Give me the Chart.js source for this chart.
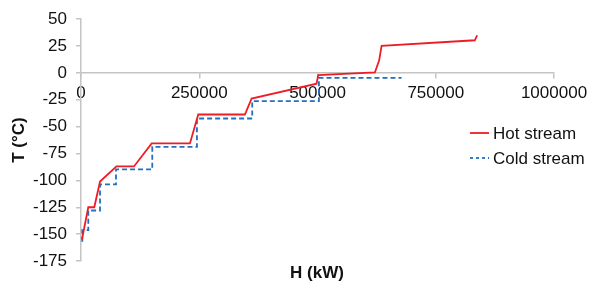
<!DOCTYPE html>
<html>
<head>
<meta charset="utf-8">
<script src="https://cdn.jsdelivr.net/npm/chart.js@4"></script>
<style>
    html, body { margin: 0; padding: 0; background: #fff; }
    #wrap { position: relative; width: 596px; height: 289px; }
</style>
</head>
<body>
<div id="wrap"><canvas id="pinch" width="596" height="289"></canvas></div>
<script>
const hotH = [2000, 15400, 28100, 40200, 75000, 112000, 149400, 230300, 247900, 346600, 360700, 498000, 501500, 621300, 630400, 635500, 832600, 837500];
const hotT = [-155, -125, -125, -101, -87, -87, -65.6, -65.6, -38.7, -38.7, -23.8, -10, -2.1, 0.4, 11.8, 25.1, 30.4, 35];

const coldH = [2700, 2700, 15400, 15400, 40200, 40200, 74000, 74000, 150700, 150700, 245100, 245100, 362000, 362000, 503000, 503000, 677700];
const coldT = [-157, -146.2, -146.2, -128, -128, -103.7, -103.7, -89.8, -89.8, -68.8, -68.8, -42.4, -42.4, -26.3, -26.3, -4.6, -4.6];

const seriesNames = ['Hot stream', 'Cold stream'];
const xTicks = [0, 250000, 500000, 750000, 1000000];
const yTicks = [50, 25, 0, -25, -50, -75, -100, -125, -150, -175];
const xTitle = 'H (kW)';
const yTitle = 'T (°C)';

document.addEventListener('DOMContentLoaded', () => {
    const ctx = document.getElementById('pinch').getContext('2d');
    const toPoints = (xs, ys) => xs.map((x, i) => ({ x: x, y: ys[i] }));
    const axisGray = '#c4c4c4';
    const textColor = '#111';

    const extras = {
        id: 'extras',
        afterDraw: (chart) => {
            const c = chart.ctx;
            c.save();
            c.fillStyle = textColor;
            c.font = 'bold 17px "Liberation Sans", Arial, sans-serif';
            c.textAlign = 'center';
            c.textBaseline = 'middle';
            c.fillText(xTitle, 317, 273);
            c.save();
            c.translate(19, 140);
            c.rotate(-Math.PI / 2);
            c.fillText(yTitle, 0, 0);
            c.restore();

            c.font = '17px "Liberation Sans", Arial, sans-serif';
            c.textAlign = 'left';
            chart.data.datasets.forEach((ds, i) => {
                const y = 133 + i * 25;
                c.beginPath();
                c.strokeStyle = ds.borderColor;
                c.lineWidth = ds.borderWidth;
                c.setLineDash(i === 1 ? [3, 3] : []);
                c.moveTo(470, y);
                c.lineTo(489, y);
                c.stroke();
                c.setLineDash([]);
                c.fillStyle = textColor;
                c.fillText(ds.label, 493, y + 1);
            });
            c.restore();
        }
    };

    new Chart(ctx, {
        type: 'scatter',
        data: {
            datasets: [{
                label: seriesNames[0],
                data: toPoints(hotH, hotT),
                showLine: true,
                borderColor: '#ee1c25',
                borderWidth: 1.8,
                pointRadius: 0,
                tension: 0
            }, {
                label: seriesNames[1],
                data: toPoints(coldH, coldT),
                showLine: true,
                borderColor: '#1f70c1',
                borderWidth: 1.8,
                borderDash: [5, 3],
                pointRadius: 0,
                tension: 0
            }]
        },
        options: {
            responsive: false,
            animation: false,
            layout: {
                padding: { left: 0, top: 19, right: 42, bottom: 28 }
            },
            plugins: {
                legend: { display: false },
                tooltip: { enabled: false }
            },
            scales: {
                x: {
                    type: 'linear',
                    position: { y: 0 },
                    min: 0,
                    max: 1000000,
                    afterBuildTicks: (scale) => {
                        scale.ticks = xTicks.map(v => ({ value: v }));
                    },
                    ticks: {
                        callback: (v) => String(v),
                        color: textColor,
                        font: { size: 17, family: '"Liberation Sans", Arial, sans-serif' },
                        padding: 5,
                        maxRotation: 0,
                        autoSkip: false
                    },
                    grid: {
                        drawOnChartArea: false,
                        drawTicks: true,
                        tickLength: 5,
                        color: axisGray,
                        lineWidth: 1.5
                    },
                    border: { display: true, color: axisGray, width: 1.5 }
                },
                y: {
                    type: 'linear',
                    min: -175,
                    max: 50,
                    afterBuildTicks: (scale) => {
                        scale.ticks = yTicks.slice().reverse().map(v => ({ value: v }));
                    },
                    afterFit: (scale) => {
                        scale.width = 81;
                    },
                    ticks: {
                        callback: (v) => String(v),
                        color: textColor,
                        font: { size: 17, family: '"Liberation Sans", Arial, sans-serif' },
                        padding: 9,
                        autoSkip: false
                    },
                    grid: {
                        drawOnChartArea: false,
                        drawTicks: true,
                        tickLength: 5,
                        color: axisGray,
                        lineWidth: 1.5
                    },
                    border: { display: true, color: axisGray, width: 1.5 }
                }
            }
        },
        plugins: [extras]
    });
});
</script>
</body>
</html>
